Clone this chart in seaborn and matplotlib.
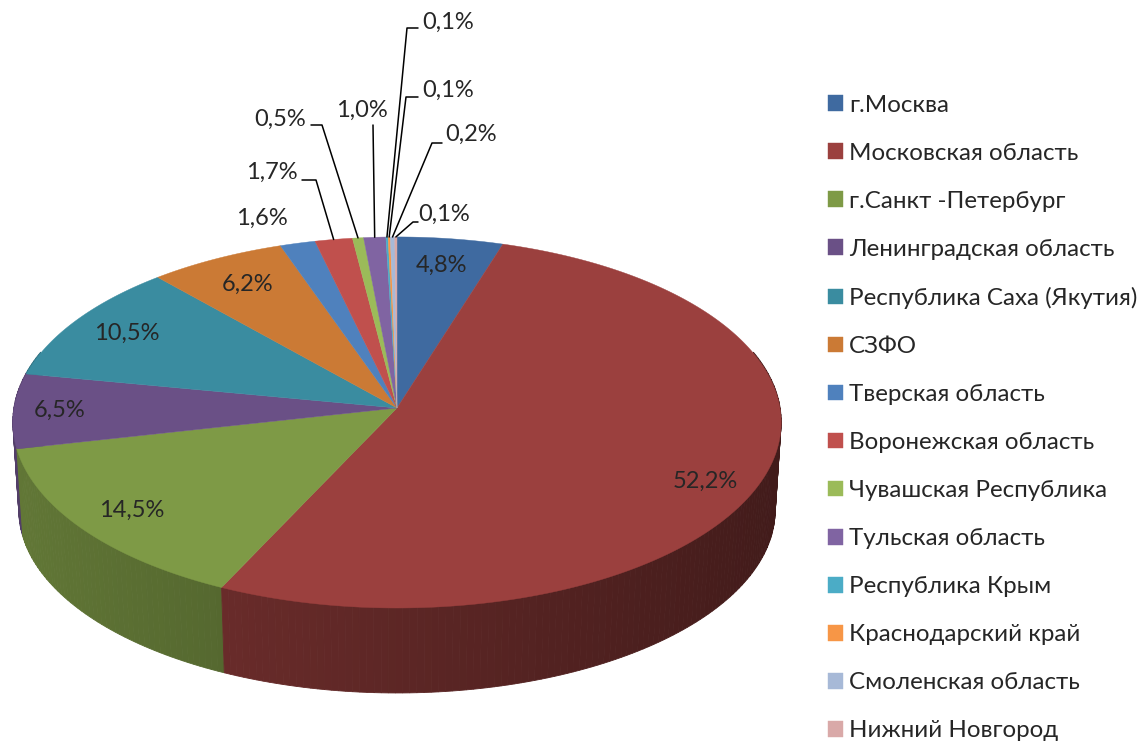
import matplotlib
matplotlib.use("Agg")
import matplotlib.pyplot as plt
import numpy as np
import seaborn as sns
from matplotlib.colors import to_rgb

# --- data -------------------------------------------------------------------
regions = [
    "г.Москва", "Московская область", "г.Санкт -Петербург",
    "Ленинградская область", "Республика Саха (Якутия)", "СЗФО",
    "Тверская область", "Воронежская область", "Чувашская Республика",
    "Тульская область", "Республика Крым", "Краснодарский край",
    "Смоленская область", "Нижний Новгород",
]
shares = [4.8, 52.2, 14.5, 6.5, 10.5, 6.2, 1.6, 1.7, 0.5, 1.0, 0.1, 0.1, 0.2, 0.1]
colors = [
    "#3f6aa0", "#9b403e", "#7e9a46", "#6a5086", "#3a8ca0", "#cb7a35",
    "#4f81bd", "#c0504d", "#9bbb59", "#8064a2", "#4bacc6", "#f79646",
    "#a7b9d7", "#d9a9a8",
]

# --- layout (pixels, y down) -------------------------------------------------
W, H = 1138, 744
CX, CY = 397, 408          # apex of the pie on screen
A_TOP, B_TOP = 383, 184.4  # top face
A_BOT, B_BOT = 377, 181.6  # bottom face (a bit further away)
DROP = 88                  # vertical offset of the bottom face
PERSP = 0.078              # perspective strength

# callout positions for the thin slices: index -> (text x, text y, elbow x, elbow y)
callouts = {
    6: (262, 218, None, None),
    7: (272, 172, 316, 180),
    8: (280, 119, 322, 125),
    9: (362, 110, 373, 125),
    10: (448, 22, 407, 28),
    11: (448, 90, 406, 97),
    12: (471, 134, 432, 143),
    13: (444, 214, 413, 222),
}
elbow_start = {7: 302, 8: 311, 10: 418, 11: 418, 12: 442, 13: 418}
label_radius = {0: 0.83, 1: 0.87, 3: 0.88, 4: 0.84, 5: 0.82}
label_shift = {1: 5.0}     # degrees, Excel's best-fit nudge


def project(theta_deg, r=1.0, bottom=False):
    """pie angle (deg, y up) and radius -> screen pixel coordinates"""
    t = np.radians(np.asarray(theta_deg, dtype=float))
    u = r * np.cos(t)
    v = -r * np.sin(t)          # positive towards the viewer
    k = 1.0 / (1.0 - PERSP * v)
    if bottom:
        return CX + A_BOT * u * k, CY + DROP + B_BOT * v * k
    return CX + A_TOP * u * k, CY + B_TOP * v * k


sns.set_style("white")
plt.rcParams["font.family"] = ["Lato", "DejaVu Sans"]

fig = plt.figure(figsize=(W / 100, H / 100), dpi=100)
ax = fig.add_axes([0, 0, 1, 1])

# the pie gives the slice angles; it is then redrawn in perspective
wedges, _ = ax.pie(shares, startangle=90, counterclock=False, normalize=True)
for w in wedges:
    w.set_visible(False)

# side wall, strips sorted back to front, shaded by facing direction
strips = []
for w, c in zip(wedges, colors):
    n = max(2, int(abs(w.theta2 - w.theta1) / 1.0) + 2)
    t = np.linspace(w.theta1, w.theta2, n)
    for t0, t1 in zip(t[:-1], t[1:]):
        tm = np.radians((t0 + t1) / 2)
        if -np.sin(tm) < -0.3:
            continue
        strips.append((-np.sin(tm), t0, t1, np.cos(tm), c))
strips.sort(key=lambda s: s[0])
for _, t0, t1, cu, c in strips:
    seg = np.linspace(t0, t1, 4)
    xt, yt = project(seg)
    xb, yb = project(seg, bottom=True)
    shade = np.clip(0.6 - 0.18 * cu, 0, 1)
    rgb = np.array(to_rgb(c)) * shade
    ax.fill(np.concatenate([xt, xb[::-1]]), np.concatenate([yt - 1, yb[::-1]]),
            color=rgb, lw=0.6, zorder=1)

# top face
handles = []
for w, c in zip(wedges, colors):
    n = max(3, int(abs(w.theta2 - w.theta1) / 0.5) + 2)
    t = np.linspace(w.theta1, w.theta2, n)
    xs, ys = project(t)
    poly = ax.fill(np.r_[CX, xs], np.r_[CY, ys], color=c, lw=0.3, zorder=2)[0]
    handles.append(poly)

# percentage labels
for i, (w, v) in enumerate(zip(wedges, shares)):
    txt = f"{v:.1f}".replace(".", ",") + "%"
    mid = (w.theta1 + w.theta2) / 2
    if i not in callouts:
        x, y = project(mid - label_shift.get(i, 0), r=label_radius.get(i, 0.85))
        ax.text(x, y, txt, ha="center", va="center", fontsize=17, zorder=5)
        continue
    tx, ty, ex, ey = callouts[i]
    ax.text(tx, ty, txt, ha="center", va="center", fontsize=17, zorder=5)
    if ex is None:
        continue
    edge_x, edge_y = project(mid)
    xs = [ex, edge_x]
    ys = [ey, edge_y]
    if i in elbow_start:
        xs = [elbow_start[i]] + xs
        ys = [ey] + ys
    ax.plot(xs, ys, color="black", lw=1.1, zorder=4)

ax.set_aspect("auto")
ax.set_xlim(0, W)
ax.set_ylim(H, 0)
ax.axis("off")

fig.legend(handles, regions, loc="upper left",
           bbox_to_anchor=(828 / W, 1 - 94.5 / H), frameon=False,
           fontsize=17.4, handlelength=0.62, handleheight=0.62,
           handletextpad=0.25, labelspacing=1.12, borderpad=0,
           borderaxespad=0)

fig.savefig("out.png", dpi=100)
